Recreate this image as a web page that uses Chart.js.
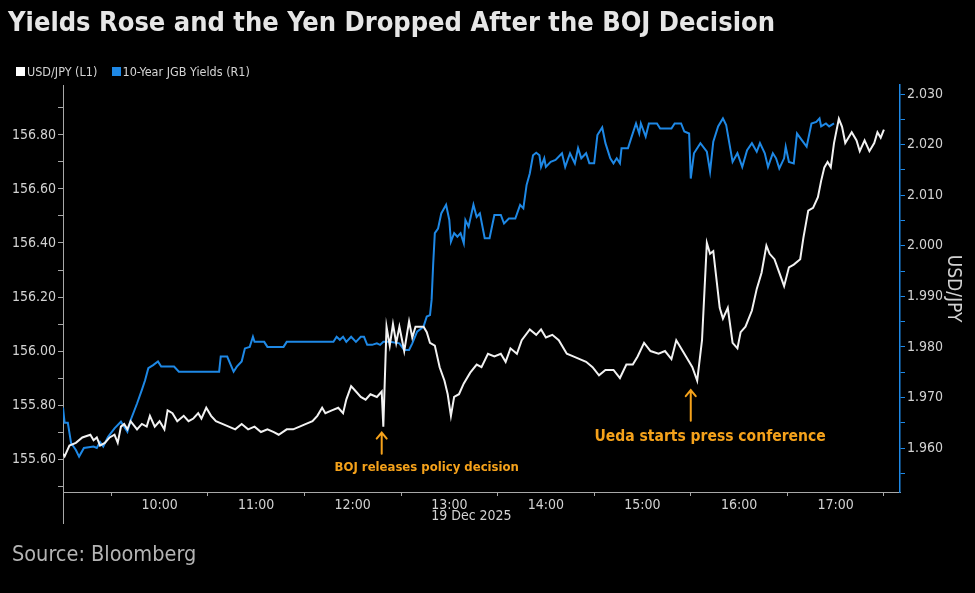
<!DOCTYPE html>
<html>
<head>
<meta charset="utf-8">
<script src="https://cdn.jsdelivr.net/npm/chart.js@4.4.1/dist/chart.umd.min.js"></script>
<style>
html,body{margin:0;padding:0;background:#000;width:975px;height:593px;overflow:hidden;}
#wrap{position:absolute;left:0;top:0;width:975px;height:593px;}
#title{position:absolute;left:8px;top:6px;color:#e6e6e6;font:bold 27px "DejaVu Sans Condensed","DejaVu Sans",sans-serif;white-space:nowrap;}
#legend{position:absolute;left:16px;top:64px;color:#d4d4d4;font:12.5px "DejaVu Sans Condensed","DejaVu Sans",sans-serif;white-space:nowrap;}
.sw{display:inline-block;width:9px;height:9px;margin-right:2px;vertical-align:0px;}
#source{position:absolute;left:12px;top:541px;color:#b4b4b4;font:21.5px "DejaVu Sans Condensed","DejaVu Sans",sans-serif;white-space:nowrap;}
</style>
</head>
<body>
<div id="wrap"><canvas id="c"></canvas></div>
<div id="title">Yields Rose and the Yen Dropped After the BOJ Decision</div>
<div id="legend"><span class="sw" style="background:#ffffff"></span>USD/JPY (L1)&nbsp;&nbsp;&nbsp;&nbsp;<span class="sw" style="background:#1e88e5"></span>10-Year JGB Yields (R1)</div>
<div id="source">Source: Bloomberg</div>
<script>
// ---- data ----
const usdTimes = ['09:00','09:01','09:04','09:08','09:12','09:17','09:19','09:21','09:23','09:26','09:29','09:32','09:34','09:36','09:38','09:40','09:42','09:46','09:49','09:52','09:54','09:57',
'10:00','10:03','10:05','10:08','10:11','10:15','10:18','10:21','10:24','10:26','10:29','10:32','10:35','10:39','10:43','10:47','10:51','10:55','10:59',
'11:03','11:07','11:11','11:14','11:19','11:23','11:27','11:31','11:35','11:38','11:41','11:43','11:47','11:51','11:54','11:56','11:59',
'12:02','12:05','12:08','12:11','12:15','12:18','12:19','12:21','12:23','12:25','12:27','12:29','12:32','12:35','12:37','12:39','12:44','12:46','12:48','12:51','12:54','12:57','12:59',
'13:01','13:03','13:06','13:09','13:13','13:17','13:20','13:24','13:28','13:32','13:35','13:38','13:42','13:45','13:50','13:54','13:57',
'14:00','14:04','14:08','14:13','14:17','14:21','14:25','14:29','14:33','14:37','14:42','14:46','14:50','14:54','14:57',
'15:01','15:05','15:10','15:14','15:18','15:21','15:25','15:29','15:31','15:34','15:37','15:40','15:42','15:44','15:48','15:50','15:53','15:56','15:59',
'16:01','16:04','16:08','16:11','16:14','16:17','16:19','16:22','16:25','16:28','16:31','16:34','16:38','16:40','16:43','16:46','16:49','16:51','16:53','16:55','16:57','16:59',
'17:02','17:04','17:06','17:10','17:13','17:15','17:18','17:21','17:24','17:26','17:28','17:30'];
const usdValues = [155.62,155.61,155.65,155.66,155.68,155.69,155.67,155.68,155.65,155.66,155.68,155.69,155.66,155.72,155.73,155.71,155.74,155.71,155.73,155.72,155.76,155.72,
155.74,155.71,155.78,155.77,155.74,155.76,155.74,155.75,155.77,155.75,155.79,155.76,155.74,155.73,155.72,155.71,155.73,155.71,155.72,
155.70,155.71,155.70,155.69,155.71,155.71,155.72,155.73,155.74,155.76,155.79,155.77,155.78,155.79,155.77,155.82,155.87,
155.85,155.83,155.82,155.84,155.83,155.85,155.72,156.09,156.02,156.10,156.03,156.09,156.00,156.11,156.05,156.09,156.09,156.07,156.03,156.02,155.94,155.89,155.84,
155.76,155.83,155.84,155.88,155.92,155.95,155.94,155.99,155.98,155.99,155.96,156.01,155.99,156.04,156.08,156.06,156.08,
156.05,156.06,156.04,155.99,155.98,155.97,155.96,155.94,155.91,155.93,155.93,155.90,155.95,155.95,155.98,
156.03,156.00,155.99,156.00,155.97,156.04,156.00,155.96,155.94,155.89,156.04,156.40,156.36,156.37,156.16,156.12,156.16,156.03,156.01,
156.07,156.09,156.15,156.23,156.29,156.39,156.36,156.34,156.29,156.24,156.31,156.32,156.34,156.42,156.52,156.53,156.57,156.63,156.68,156.70,156.68,156.77,
156.86,156.83,156.77,156.81,156.78,156.74,156.78,156.74,156.77,156.81,156.79,156.82];

const jgbTimes = ['09:00','09:01','09:03','09:05','09:08','09:10','09:13','09:19','09:21','09:23','09:25','09:28','09:32','09:36','09:38','09:40','09:42','09:46','09:49','09:51','09:53','09:56','09:59',
'10:01','10:09','10:12','10:37','10:38','10:42','10:46','10:48','10:51','10:53','10:56','10:58','10:59',
'11:05','11:07','11:17','11:19','11:48','11:50','11:52','11:54','11:56','11:59',
'12:02','12:05','12:07','12:09','12:12','12:15','12:17','12:19','12:23','12:29','12:32','12:35','12:37','12:40','12:44','12:46','12:48','12:49','12:50','12:51','12:53','12:55','12:58',
'13:00','13:01','13:03','13:05','13:07','13:09','13:10','13:12','13:15','13:17','13:19','13:22','13:25','13:28','13:32','13:34','13:37','13:41','13:44','13:46','13:48','13:50','13:52','13:54','13:56','13:57','13:59',
'14:00','14:03','14:06','14:10','14:12','14:15','14:18','14:20','14:22','14:25','14:27','14:30','14:32','14:35','14:37','14:40','14:42','14:44','14:46','14:47','14:51','14:53','14:56','14:58','14:59',
'15:02','15:04','15:09','15:11','15:18','15:20','15:24','15:26','15:29','15:30','15:32','15:36','15:40','15:42','15:44','15:47','15:50','15:52','15:56','15:59',
'16:02','16:05','16:08','16:11','16:13','16:16','16:18','16:21','16:23','16:25','16:28','16:29','16:31','16:34','16:36','16:39','16:42','16:45','16:48','16:50','16:51','16:54','16:56','16:59'];
const jgbValues = [1.9680,1.9650,1.9650,1.9610,1.9596,1.9583,1.9600,1.9603,1.9600,1.9612,1.9603,1.9622,1.9639,1.9652,1.9642,1.9632,1.9655,1.9688,1.9715,1.9734,1.9758,1.9764,1.9771,
1.9761,1.9761,1.9751,1.9751,1.9781,1.9781,1.9751,1.9761,1.9771,1.9797,1.9800,1.9820,1.9810,
1.9810,1.9800,1.9800,1.9810,1.9810,1.9820,1.9814,1.9820,1.9810,1.9820,
1.9810,1.9820,1.9820,1.9804,1.9804,1.9807,1.9804,1.9810,1.9810,1.9807,1.9794,1.9794,1.9807,1.9830,1.9840,1.9860,1.9863,1.9893,1.9965,2.0025,2.0034,2.0064,2.0081,
2.0051,2.0008,2.0025,2.0018,2.0025,2.0005,2.0051,2.0038,2.0081,2.0057,2.0064,2.0015,2.0015,2.0061,2.0061,2.0044,2.0054,2.0054,2.0081,2.0074,2.0120,2.0143,2.0179,2.0184,2.0179,2.0156,2.0173,
2.0156,2.0166,2.0170,2.0183,2.0156,2.0183,2.0163,2.0193,2.0173,2.0183,2.0163,2.0163,2.0219,2.0234,2.0203,2.0173,2.0163,2.0173,2.0163,2.0193,2.0193,2.0213,2.0242,2.0222,2.0242,
2.0216,2.0242,2.0242,2.0232,2.0232,2.0242,2.0242,2.0226,2.0222,2.0133,2.0183,2.0203,2.0186,2.0147,2.0206,2.0236,2.0252,2.0239,2.0166,2.0183,
2.0156,2.0189,2.0203,2.0186,2.0203,2.0183,2.0156,2.0183,2.0173,2.0153,2.0173,2.0196,2.0166,2.0163,2.0222,2.0209,2.0196,2.0242,2.0245,2.0252,2.0236,2.0242,2.0236,2.0242];

const xRange = ['09:00','17:40'];
const xTickTimes = ['09:30','10:00','10:30','11:00','11:30','12:00','12:30','13:00','13:30','14:00','14:30','15:00','15:30','16:00','16:30','17:00','17:30'];
const xTickLabels = ['','10:00','','11:00','','12:00','','13:00','','14:00','','15:00','','16:00','','17:00',''];
const dateTick = '13:00';
const dateLabel = '19 Dec 2025';
const leftRange = [155.478, 156.985];
const leftTicks = [155.5,155.6,155.7,155.8,155.9,156.0,156.1,156.2,156.3,156.4,156.5,156.6,156.7,156.8,156.9];
const leftTickLabels = ['','155.60','','155.80','','156.00','','156.20','','156.40','','156.60','','156.80',''];
const rightRange = [1.9513, 2.0318];
const rightTicks = [1.955,1.960,1.965,1.970,1.975,1.980,1.985,1.990,1.995,2.000,2.005,2.010,2.015,2.020,2.025,2.030];
const rightTickLabels = ['','1.960','','1.970','','1.980','','1.990','','2.000','','2.010','','2.020','','2.030'];
const rightTitle = 'USD/JPY';
const seriesNames = ['USD/JPY (L1)','10-Year JGB Yields (R1)'];
const annotations = [
  {text:'BOJ releases policy decision', time:'12:18', tip:155.698, tail:155.620, textTime:'12:46', textValue:155.567, size:13},
  {text:'Ueda starts press conference', time:'15:30', tip:155.855, tail:155.742, textTime:'15:42', textValue:155.681, size:15.5}
];

// ---- helpers ----
const toMin = t => { const [h,m] = t.split(':').map(Number); return h*60+m; };
const FONT = '"DejaVu Sans Condensed","DejaVu Sans",sans-serif';
const GREY = '#a8a8a8';
const TICKTXT = '#d2d2d2';
const BLUE = '#1e88e5';
const ORANGE = '#f5a21b';
Chart.defaults.font.family = FONT;

const usdData = usdTimes.map((t,i)=>({x:toMin(t), y:usdValues[i]}));
const jgbData = jgbTimes.map((t,i)=>({x:toMin(t), y:jgbValues[i]}));

const overlay = {
  id:'overlay',
  afterDraw(chart){
    const {ctx, chartArea} = chart;
    const x = chart.scales.x, yL = chart.scales.yL;
    ctx.save();
    ctx.strokeStyle = GREY; ctx.lineWidth = 1;
    ctx.beginPath();
    ctx.moveTo(Math.round(chartArea.left)+0.5, chartArea.bottom);
    ctx.lineTo(Math.round(chartArea.left)+0.5, chartArea.bottom+32);
    ctx.stroke();
    ctx.font = '14px ' + FONT;
    ctx.fillStyle = TICKTXT;
    const hx = x.getPixelForValue(toMin(dateTick));
    const w = ctx.measureText(dateTick).width;
    ctx.textAlign = 'left'; ctx.textBaseline = 'middle';
    ctx.fillText(dateLabel, hx - w/2, x.top + 24);
    annotations.forEach(a => {
      const ax = x.getPixelForValue(toMin(a.time));
      const ty = yL.getPixelForValue(a.tip);
      const by = yL.getPixelForValue(a.tail);
      ctx.strokeStyle = ORANGE; ctx.lineWidth = 2; ctx.lineCap='round';
      ctx.beginPath();
      ctx.moveTo(ax, by); ctx.lineTo(ax, ty);
      ctx.moveTo(ax-5, ty+6); ctx.lineTo(ax, ty); ctx.lineTo(ax+5, ty+6);
      ctx.stroke();
      ctx.fillStyle = ORANGE;
      ctx.font = 'bold ' + a.size + 'px ' + FONT;
      ctx.textAlign = 'center'; ctx.textBaseline = 'middle';
      ctx.fillText(a.text, x.getPixelForValue(toMin(a.textTime)), yL.getPixelForValue(a.textValue));
    });
    ctx.translate(chart.scales.yR.right - 22, (chartArea.top + chartArea.bottom)/2);
    ctx.rotate(Math.PI/2);
    ctx.fillStyle = TICKTXT;
    ctx.font = '19px ' + FONT;
    ctx.textAlign = 'center'; ctx.textBaseline = 'middle';
    ctx.fillText(rightTitle, 0, 0);
    ctx.restore();
  }
};

new Chart(document.getElementById('c'), {
  type:'line',
  data:{datasets:[
    {label:seriesNames[0], data:usdData, yAxisID:'yL', borderColor:'#f2f2f2', borderWidth:2, pointRadius:0, tension:0, order:0},
    {label:seriesNames[1], data:jgbData, yAxisID:'yR', borderColor:BLUE, borderWidth:2, pointRadius:0, tension:0, order:1}
  ]},
  options:{
    responsive:true, maintainAspectRatio:false, animation:false,
    layout:{padding:{top:85, left:0, right:0, bottom:0}},
    plugins:{legend:{display:false}, tooltip:{enabled:false}},
    scales:{
      x:{type:'linear', min:toMin(xRange[0]), max:toMin(xRange[1]),
        afterBuildTicks: s => { s.ticks = xTickTimes.map(t=>({value:toMin(t)})); },
        afterFit: s => { s.height = 101; },
        ticks:{autoSkip:false, maxRotation:0, color:TICKTXT, font:{size:14}, padding:1,
          callback:(v,i)=> xTickLabels[i]},
        grid:{drawOnChartArea:false, drawTicks:true, tickLength:4,
          tickColor: c => (c.tick && c.tick.value % 60 === 0) ? 'rgba(0,0,0,0)' : GREY},
        border:{display:true, color:GREY, width:1}
      },
      yL:{type:'linear', position:'left', min:leftRange[0], max:leftRange[1],
        afterBuildTicks: s => { s.ticks = leftTicks.map(v=>({value:v})); },
        afterFit: s => { s.width = 63; },
        ticks:{autoSkip:false, color:TICKTXT, font:{size:14}, padding:2, callback:(v,i)=> leftTickLabels[i]},
        grid:{drawOnChartArea:false, drawTicks:true, tickLength:5, tickColor:GREY},
        border:{display:true, color:GREY, width:1, dash:[3,2]}
      },
      yR:{type:'linear', position:'right', min:rightRange[0], max:rightRange[1],
        afterBuildTicks: s => { s.ticks = rightTicks.map(v=>({value:v})); },
        afterFit: s => { s.width = 75; },
        ticks:{autoSkip:false, color:TICKTXT, font:{size:14}, padding:2, callback:(v,i)=> rightTickLabels[i]},
        grid:{drawOnChartArea:false, drawTicks:true, tickLength:5, tickColor:BLUE},
        border:{display:true, color:BLUE, width:1.5}
      }
    }
  },
  plugins:[overlay]
});
</script>
</body>
</html>
